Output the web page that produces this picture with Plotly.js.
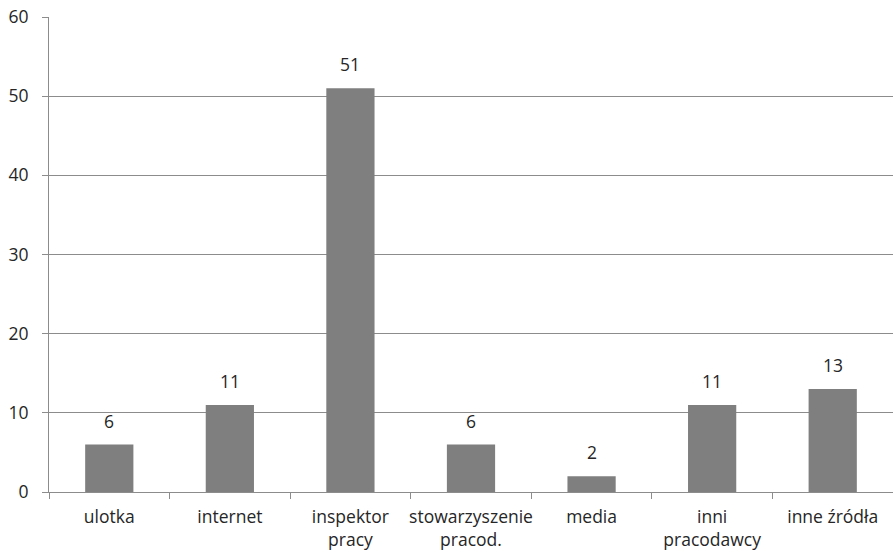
<!DOCTYPE html>
<html>
<head>
<meta charset="utf-8">
<script src="https://cdn.plot.ly/plotly-3.0.1.min.js"></script>
<style>html,body{margin:0;padding:0;background:#fff;}#chart{width:893px;height:554px;}</style>
</head>
<body>
<div id="chart"></div>
<script>
const categories = ["ulotka", "internet", "inspektor<br>pracy", "stowarzyszenie<br>pracod.", "media", "inni<br>pracodawcy", "inne źródła"];
const values = [6, 11, 51, 6, 2, 11, 13];
const yTicks = [0, 10, 20, 30, 40, 50, 60];

const fontFam = "Open Sans, Liberation Sans, sans-serif";
const textColor = "#262626";
const fs = 17.5;

const trace = {
  type: "bar",
  x: categories,
  y: values,
  marker: {color: "#7f7f7f", line: {width: 0}},
  hoverinfo: "none"
};

const annotations = categories.map((c, i) => ({
  x: c, y: values[i], xref: "x", yref: "y",
  text: String(values[i]), showarrow: false,
  yanchor: "bottom", yshift: 10,
  font: {family: fontFam, size: fs, color: textColor}
}));

const layout = {
  width: 893, height: 554,
  margin: {l: 49, r: 0, t: 17, b: 62},
  paper_bgcolor: "#fff", plot_bgcolor: "#fff",
  bargap: 0.6,
  showlegend: false,
  font: {family: fontFam, size: fs, color: textColor},
  xaxis: {
    type: "category",
    tickson: "boundaries",
    tickangle: 0,
    ticks: "outside", ticklen: 6, tickcolor: "#8c8c8c", tickwidth: 1,
    showline: true, linecolor: "#8c8c8c", linewidth: 1,
    showgrid: false, zeroline: false,
    ticklabelstandoff: 9,
    tickfont: {family: fontFam, size: fs, color: textColor},
    fixedrange: true
  },
  yaxis: {
    range: [0, 60],
    tickvals: yTicks,
    ticktext: yTicks.map(String),
    ticks: "outside", ticklen: 6, tickcolor: "#8c8c8c", tickwidth: 1,
    showline: true, linecolor: "#8c8c8c", linewidth: 1,
    showgrid: true, gridcolor: "#8c8c8c", gridwidth: 1,
    zeroline: false,
    ticklabelstandoff: 10,
    tickfont: {family: fontFam, size: fs, color: textColor},
    fixedrange: true
  },
  annotations: annotations
};

Plotly.newPlot("chart", [trace], layout, {displayModeBar: false, staticPlot: true});
</script>
</body>
</html>
